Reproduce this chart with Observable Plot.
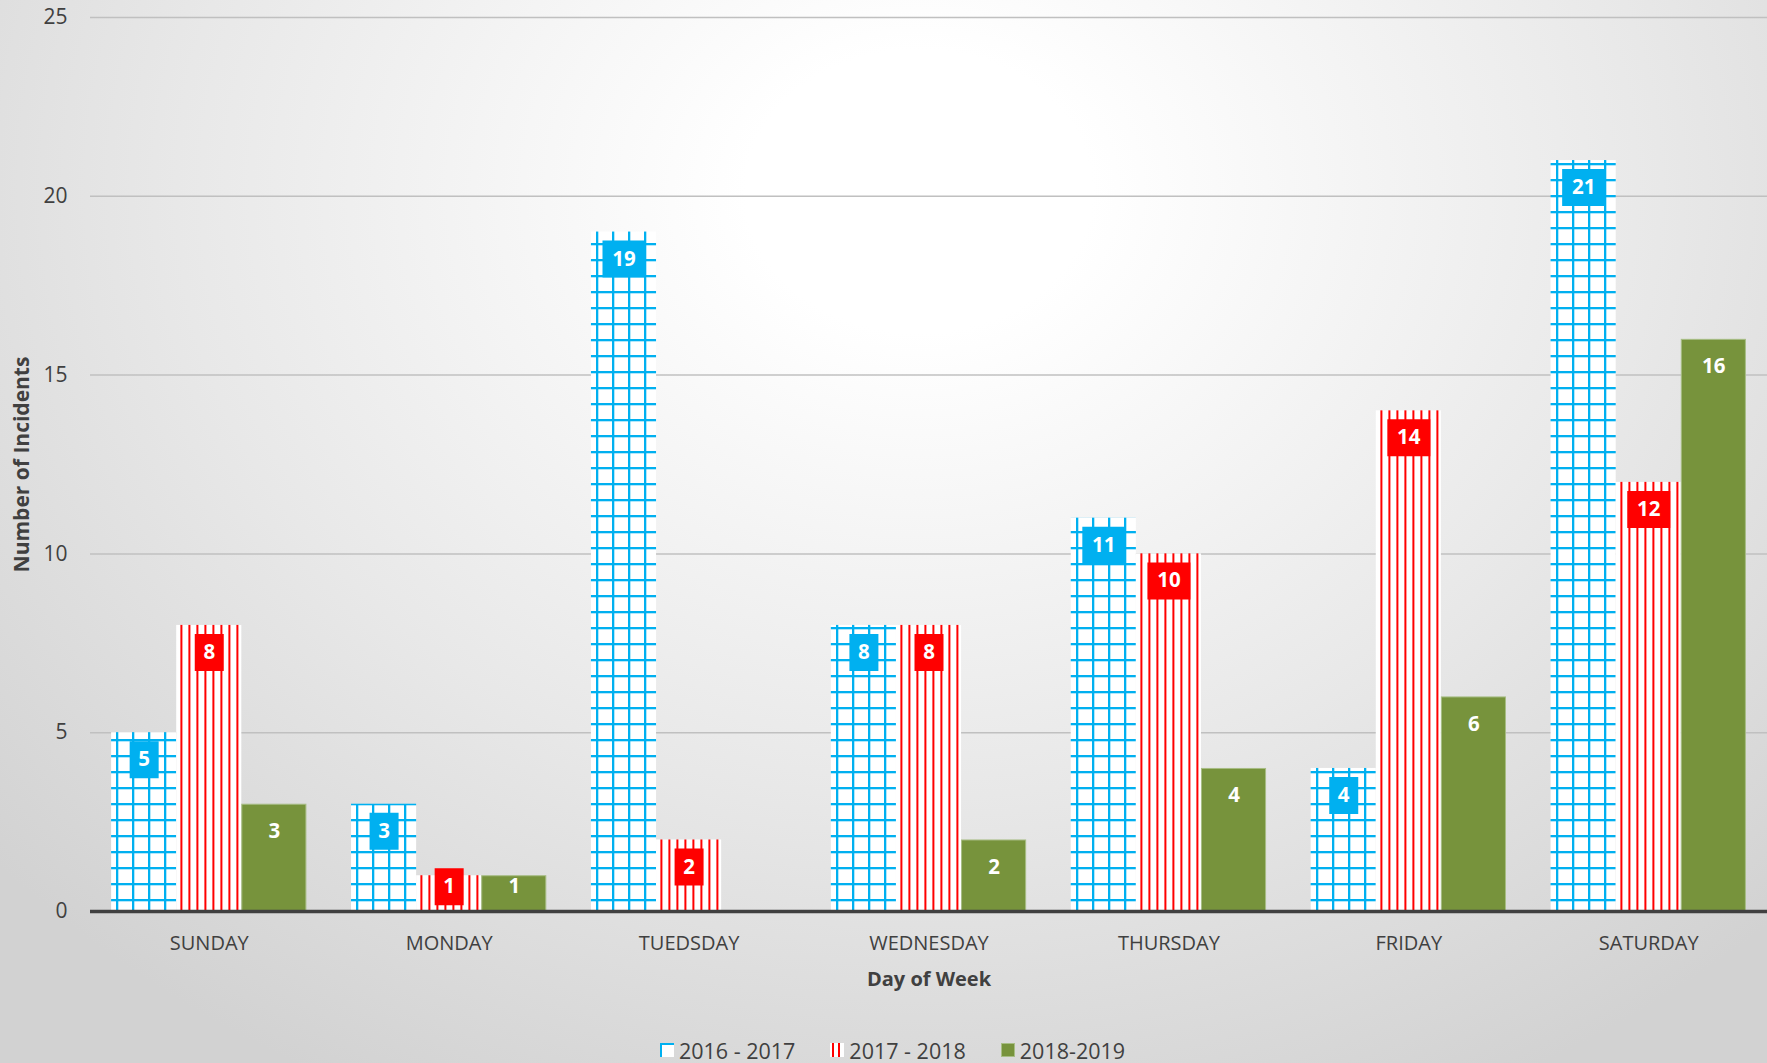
<!DOCTYPE html>
<html>
<head>
<meta charset="utf-8">
<script src="https://cdn.jsdelivr.net/npm/d3@7"></script>
<script src="https://cdn.jsdelivr.net/npm/@observablehq/plot@0.6"></script>
<style>
  html, body { margin: 0; padding: 0; }
  body {
    width: 1767px; height: 1063px; overflow: hidden;
    font-family: "Open Sans", sans-serif;
    background: radial-gradient(ellipse 70% 95% at 52% 18%, #ffffff 0%, #ffffff 14%, #e8e8e8 60%, #d2d2d2 100%);
  }
  #chart svg { display: block; }
  g[aria-label$="axis label"], g[aria-label$="axis label"] text { font-weight: 700; }
  #legend {
    height: 26px; padding-top: 25px;
    display: flex; align-items: center; justify-content: center;
    font-size: 21.5px; color: #404040; gap: 35px;
    padding-left: 18px;
  }
  .item { display: flex; align-items: center; gap: 5px; }
  .item svg { display: block; }
</style>
</head>
<body>
<div id="chart"></div>
<div id="legend"></div>
<script>
const days = ["SUNDAY", "MONDAY", "TUEDSDAY", "WEDNESDAY", "THURSDAY", "FRIDAY", "SATURDAY"];
const seriesNames = ["2016 - 2017", "2017 - 2018", "2018-2019"];
const values2016 = [5, 3, 19, 8, 11, 4, 21];
const values2017 = [8, 1, 2, 8, 10, 14, 12];
const values2018 = [3, 1, null, 2, 4, 6, 16];
const yTicks = [0, 5, 10, 15, 20, 25];

const toRows = (vals, s) => days.map((day, i) => ({day, series: s, value: vals[i]})).filter(d => d.value != null);
const rows16 = toRows(values2016, seriesNames[0]);
const rows17 = toRows(values2017, seriesNames[1]);
const rows18 = toRows(values2018, seriesNames[2]);

const W = 1767, H = 1012, ML = 90, MR = 0, MT = 17, MB = 101;
const PI = 0.186, PO = 0.088;
const step = (W - ML - MR) / (days.length - PI + 2 * PO);
const third = step * (1 - PI) / 3;

const BLUE = "#00B0F0", RED = "#FF0000", GREEN = "#77933C";
const boxSymbol = (w, h) => ({draw(ctx) { ctx.rect(-w / 2, -h / 2, w, h); }});
const narrow = boxSymbol(29, 37), wide = boxSymbol(43, 37);

function labelMarks(rows, fill, dx) {
  const big = rows.filter(d => d.value >= 2), small = rows.filter(d => d.value < 2);
  const marks = [];
  for (const [subset, dy] of [[big, 27], [small, 11]]) {
    if (fill) {
      marks.push(Plot.dot(subset.filter(d => String(d.value).length === 1), {x: "day", y: "value", dx, dy, r: 10, symbol: narrow, fill, stroke: "none"}));
      marks.push(Plot.dot(subset.filter(d => String(d.value).length > 1), {x: "day", y: "value", dx, dy, r: 10, symbol: wide, fill, stroke: "none"}));
    }
    marks.push(Plot.text(subset, {x: "day", y: "value", dx, dy, text: d => String(d.value), fill: "white", fontWeight: "bold", fontSize: 20.5}));
  }
  return marks;
}

const chart = Plot.plot({
  width: W, height: H,
  marginLeft: ML, marginRight: MR, marginTop: MT, marginBottom: MB,
  style: {background: "transparent", fontFamily: "Open Sans, sans-serif", color: "#404040"},
  x: {domain: days, paddingInner: PI, paddingOuter: PO, round: false, label: "Day of Week"},
  y: {domain: [0, 25]},
  marks: [
    Plot.ruleY(yTicks.filter(t => t > 0), {stroke: "#c0c0c0", strokeWidth: 1.5}),
    Plot.axisY({ticks: yTicks, tickSize: 0, tickPadding: 23, fontSize: 21, fill: "#404040",
      label: "Number of Incidents", labelAnchor: "center", labelArrow: "none", labelOffset: 76}),
    Plot.barY(rows16, {x: "day", y: "value", insetLeft: 0, insetRight: 2 * third, fill: "url(#blueGrid)"}),
    Plot.barY(rows17, {x: "day", y: "value", insetLeft: third, insetRight: third, fill: "url(#redLines)"}),
    Plot.barY(rows18, {x: "day", y: "value", insetLeft: 2 * third + 0.5, insetRight: 0.5, insetTop: 0.5, fill: GREEN, stroke: "#a7bd84", strokeWidth: 1}),
    Plot.ruleY([0], {stroke: "#404040", strokeWidth: 3.5}),
    ...labelMarks(rows16, BLUE, -third),
    ...labelMarks(rows17, RED, 0),
    ...labelMarks(rows18, null, third),
    Plot.axisX({anchor: "bottom", tickSize: 0, tickPadding: 24, fontSize: 20, fill: "#404040",
      label: "Day of Week", labelAnchor: "center", labelArrow: "none", labelOffset: 74})
  ]
});

const defs = d3.select(chart).insert("defs", ":first-child");
const pb = defs.append("pattern").attr("id", "blueGrid").attr("patternUnits", "userSpaceOnUse")
  .attr("width", 16).attr("height", 16);
pb.append("rect").attr("width", 16).attr("height", 16).attr("fill", "white");
pb.append("rect").attr("x", 4).attr("y", 0).attr("width", 2.3).attr("height", 16).attr("fill", BLUE);
pb.append("rect").attr("x", 0).attr("y", 3).attr("width", 16).attr("height", 2.3).attr("fill", BLUE);
const pr = defs.append("pattern").attr("id", "redLines").attr("patternUnits", "userSpaceOnUse")
  .attr("width", 8).attr("height", 8);
pr.append("rect").attr("width", 8).attr("height", 8).attr("fill", "white");
pr.append("rect").attr("x", 4.4).attr("y", 0).attr("width", 2).attr("height", 8).attr("fill", RED);

document.getElementById("chart").append(chart);

// legend
const legend = d3.select("#legend");
const swatches = [
  s => { s.append("rect").attr("width", 14).attr("height", 14).attr("fill", "white");
         s.append("rect").attr("width", 2).attr("height", 14).attr("fill", BLUE);
         s.append("rect").attr("width", 14).attr("height", 2).attr("fill", BLUE); },
  s => { s.append("rect").attr("width", 14).attr("height", 14).attr("fill", "white");
         s.append("rect").attr("x", 2).attr("width", 2).attr("height", 14).attr("fill", RED);
         s.append("rect").attr("x", 8).attr("width", 2).attr("height", 14).attr("fill", RED); },
  s => { s.append("rect").attr("x", 0.5).attr("y", 0.5).attr("width", 13).attr("height", 13).attr("fill", GREEN).attr("stroke", "#a7bd84"); }
];
seriesNames.forEach((name, i) => {
  const item = legend.append("div").attr("class", "item");
  const s = item.append("svg").attr("width", 14).attr("height", 14);
  swatches[i](s);
  item.append("span").text(name);
});
</script>
</body>
</html>
